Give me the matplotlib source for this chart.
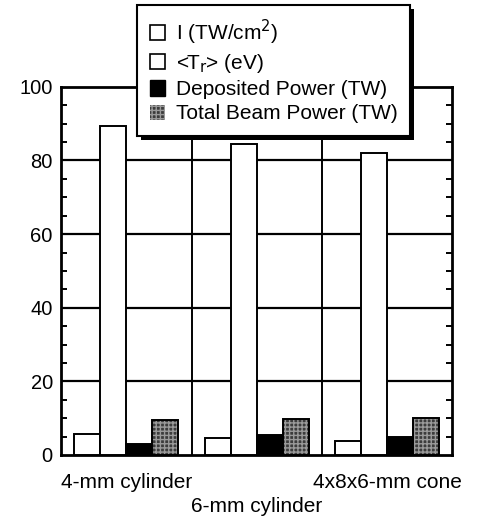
import numpy as np
import matplotlib
matplotlib.use("Agg")
from matplotlib import pyplot as plt
from matplotlib.patches import Patch, Rectangle

plt.rcParams["font.family"] = ["Liberation Sans", "DejaVu Sans"]

# Data
targets = ["4-mm cylinder", "6-mm cylinder", "4x8x6-mm cone"]
intensity = [5.8, 4.6, 3.8]          # I (TW/cm^2)
temperature = [89.3, 84.6, 82.0]     # <T_r> (eV)
deposited = [3.0, 5.4, 5.0]          # Deposited Power (TW)
total_beam = [9.5, 9.8, 10.0]        # Total Beam Power (TW)

series_labels = ["I (TW/cm$^2$)", "<T$_\\mathrm{r}$> (eV)", "Deposited Power (TW)", "Total Beam Power (TW)"]

fig = plt.figure(figsize=(4.78, 5.17), dpi=100)
ax = fig.add_axes([0.128, 0.12, 0.818, 0.712])

x = np.arange(len(targets))
w = 0.2
kw = dict(width=w, edgecolor="black", linewidth=1.4, zorder=3)
ax.bar(x - 1.5*w, intensity, color="white", **kw)
ax.bar(x - 0.5*w, temperature, color="white", **kw)
ax.bar(x + 0.5*w, deposited, color="black", **kw)
# stippled bar: hatch layer then outline
ax.bar(x + 1.5*w, total_beam, width=w, color="#3c3c3c", hatch="++++", edgecolor="#9a9a9a", linewidth=0, zorder=3)
ax.bar(x + 1.5*w, total_beam, fill=False, **kw)

ax.set_xlim(-0.5, 2.5)
ax.set_ylim(0, 100)
ax.set_yticks([0, 20, 40, 60, 80, 100])
ax.set_yticks(np.arange(0, 101, 5), minor=True)
ax.set_xticks(x)
ax.set_xticklabels([targets[0], "\n" + targets[1], targets[2]], fontsize=15, linespacing=1.3)
ax.tick_params(axis="x", length=0, pad=13)
ax.tick_params(axis="y", which="both", direction="in", right=True, labelsize=14.5, width=1.4)
ax.tick_params(axis="y", which="major", length=0, pad=6)
ax.tick_params(axis="y", which="minor", length=4)

for yv in [20, 40, 60, 80]:
    ax.axhline(yv, color="black", linewidth=1.6, zorder=1)
for xv in [0.5, 1.5]:
    ax.axvline(xv, color="black", linewidth=1.4, zorder=1)
for s in ax.spines.values():
    s.set_linewidth(2)

handles = [Patch(facecolor="white", edgecolor="black", linewidth=1.2),
           Patch(facecolor="white", edgecolor="black", linewidth=1.2),
           Patch(facecolor="black", edgecolor="black"),
           Patch(facecolor="#3c3c3c", edgecolor="#9a9a9a", hatch="++++", linewidth=0)]
leg = fig.legend(handles, series_labels, loc="upper left", bbox_to_anchor=(0.287, 0.99),
                 borderaxespad=0, fontsize=15, frameon=True, fancybox=False, shadow=False,
                 handlelength=0.75, handleheight=0.75, handletextpad=0.5, borderpad=0.6,
                 labelspacing=0.25, edgecolor="black", framealpha=1)
leg.get_frame().set_linewidth(1.5)
leg.set_zorder(10)

# heavy black drop shadow behind the legend box
fig.canvas.draw()
bb = leg.get_window_extent().transformed(fig.transFigure.inverted())
dx, dy = 4 / 478, 4 / 517
fig.add_artist(Rectangle((bb.x0 + dx, bb.y0 - dy), bb.width, bb.height, transform=fig.transFigure,
                         facecolor="black", edgecolor="none", zorder=9))

fig.savefig("out.png", dpi=100)
